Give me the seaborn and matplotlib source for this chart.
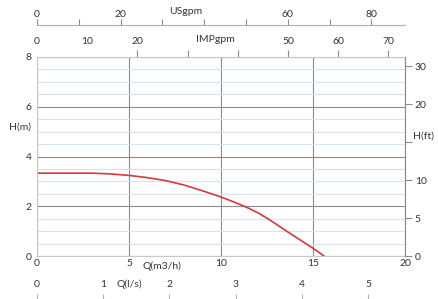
import numpy as np
import matplotlib
matplotlib.use("Agg")
import matplotlib.pyplot as plt
import matplotlib.transforms as mtransforms
import seaborn as sns

# pump curve
q_m3h = [0, 1.5, 3.0, 4.0, 5.0, 6.0, 7.0, 8.0, 9.0, 10.0, 10.5, 11.0, 11.5, 12.0,
         12.5, 13.0, 13.5, 14.0, 14.5, 15.0, 15.6]
h_m = [3.33, 3.33, 3.33, 3.30, 3.24, 3.15, 3.03, 2.85, 2.62, 2.37, 2.23, 2.08, 1.92, 1.74,
       1.52, 1.28, 1.03, 0.79, 0.55, 0.31, 0.0]

# axis ticks
q_ticks = [0, 5, 10, 15, 20]
h_ticks = [0, 2, 4, 6, 8]
ft_ticks = [0, 5, 10, 15, 20, 25]
ft_labels = ["0", "5", "10", "", "20", "30"]
us_ticks = [0, 10, 20, 30, 40, 50, 60, 70, 80]
us_labels = ["0", "", "20", "", "", "", "60", "", "80"]
imp_ticks = [0, 10, 20, 30, 40, 50, 60, 70]
imp_labels = ["0", "10", "20", "", "", "50", "60", "70"]
ls_ticks = [0, 1, 2, 3, 4, 5]

# unit conversions
M_PER_FT = 0.3048
USGPM_PER_M3H = 4.4029
IMPGPM_PER_M3H = 3.666
LS_PER_M3H = 1 / 3.6

sns.set_theme(style="white")
plt.rcParams["font.family"] = ["Lato", "DejaVu Sans"]
fs = 7.5
txt = "#333333"
grey = "#8c8c8c"
light = "#d4e4f1"
red = "#d8383a"

W, H = 438, 299
fig = plt.figure(figsize=(W / 100, H / 100), dpi=100)
L, R = 37 / W, 405 / W
B, T = 1 - 256 / H, 1 - 57 / H
ax = fig.add_axes([L, B, R - L, T - B])

sns.lineplot(x=q_m3h, y=h_m, ax=ax, color=red, lw=1.2)
ax.set_xlim(0, 20)
ax.set_ylim(0, 8)
ax.set_xticks(q_ticks)
ax.set_yticks(h_ticks)
ax.set_yticks(np.arange(0, 8.01, 0.5), minor=True)
ax.grid(which="minor", axis="y", color=light, lw=0.8)
ax.grid(which="major", color=grey, lw=0.8)
ax.set_axisbelow(True)
ax.tick_params(which="both", length=0, labelsize=fs, labelcolor=txt)
ax.tick_params(axis="x", pad=2)
ax.tick_params(axis="y", pad=4)
for s in ax.spines.values():
    s.set_color("#c8c8c8")
    s.set_linewidth(0.8)
ax.set_xlabel("")
ax.set_ylabel("")

# right axis in feet
ax2 = ax.twinx()
ax2.set_ylim(0, 8 / M_PER_FT)
ax2.set_yticks(ft_ticks)
ax2.set_yticklabels(ft_labels)
ax2.grid(False)
ax2.tick_params(axis="y", right=True, length=5, width=0.8, color=grey,
                labelsize=fs, labelcolor=txt, pad=2)
for s in ax2.spines.values():
    s.set_visible(False)
ax2.spines["right"].set_visible(True)
ax2.spines["right"].set_color(grey)
ax2.spines["right"].set_linewidth(0.8)

# IMPgpm on top of the plot
ax3 = ax.secondary_xaxis("top", functions=(lambda q: q * IMPGPM_PER_M3H,
                                           lambda g: g / IMPGPM_PER_M3H))
ax3.set_xticks(imp_ticks)
ax3.set_xticklabels(imp_labels)
ax3.tick_params(axis="x", direction="out", length=5, width=0.8, color=grey,
                labelsize=fs, labelcolor=txt, pad=3)
ax3.spines["top"].set_visible(False)
for t in ax3.xaxis.get_major_ticks()[:2]:
    t.tick1line.set_visible(False)
    t.tick2line.set_visible(False)

# USgpm axis at the very top
ax4 = fig.add_axes([L, 1 - 25 / H, R - L, 0.0001])
ax4.set_facecolor("none")
ax4.set_xlim(0, 20 * USGPM_PER_M3H)
ax4.set_xticks(us_ticks)
ax4.set_xticklabels(us_labels)
ax4.set_yticks([])
ax4.tick_params(axis="x", bottom=True, top=False, labelbottom=False, labeltop=True,
                direction="in", length=4, width=0.8, color=grey,
                labelsize=fs, labelcolor=txt, pad=4)
for k, s in ax4.spines.items():
    s.set_visible(k == "bottom")
ax4.spines["bottom"].set_color("#b0b0b0")
ax4.spines["bottom"].set_linewidth(0.8)

# l/s axis at the bottom
ax5 = fig.add_axes([L, 1 - 294 / H, R - L, 0.0001])
ax5.set_facecolor("none")
ax5.set_xlim(0, 20 * LS_PER_M3H)
ax5.set_xticks(ls_ticks)
ax5.set_yticks([])
ax5.tick_params(axis="x", bottom=True, top=False, labelbottom=False, labeltop=True,
                direction="out", length=5, width=0.8, color="#b0b0b0",
                labelsize=fs, labelcolor=txt, pad=-1.5)
for s in ax5.spines.values():
    s.set_visible(False)

# axis names
tx = mtransforms.blended_transform_factory(ax.transData, fig.transFigure)
ax.text(5.75, 1 - 266 / H, "Q(m3/h)", transform=tx, fontsize=fs, color=txt,
        ha="left", va="center")
ax.text(1.2 / LS_PER_M3H, 1 - 284 / H, "Q(l/s)", transform=tx, fontsize=fs,
        color=txt, ha="left", va="center")
ax.text(35.5 / USGPM_PER_M3H, 1 - 12 / H, "USgpm", transform=tx, fontsize=fs,
        color=txt, ha="center", va="center")
ax.text(35.6 / IMPGPM_PER_M3H, 1 - 40 / H, "IMPgpm", transform=tx, fontsize=fs,
        color=txt, ha="center", va="center")
fig.text(31 / W, 1 - 127 / H, "H(m)", fontsize=fs, color=txt, ha="right", va="center")
fig.text(413 / W, 1 - 136 / H, "H(ft)", fontsize=fs, color=txt, ha="left", va="center")

fig.savefig("out.png", dpi=100)
